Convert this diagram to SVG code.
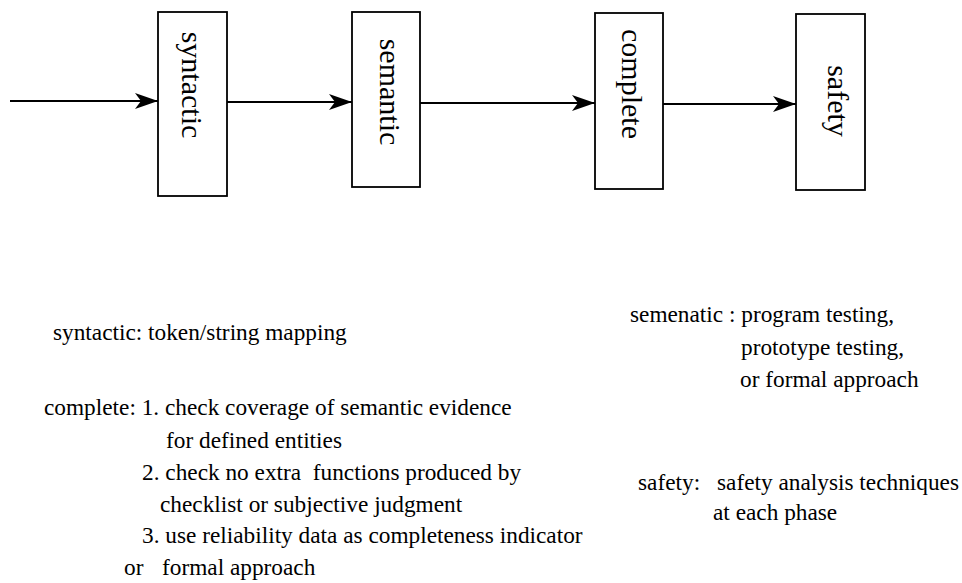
<svg xmlns="http://www.w3.org/2000/svg" width="962" height="583" viewBox="0 0 962 583">
<defs>
<marker id="ah" markerUnits="userSpaceOnUse" markerWidth="26" markerHeight="18" refX="23" refY="8" orient="auto">
<path d="M0,0 L23,8 L0,16 L6,8 Z" fill="#000"/>
</marker>
<style>
.box{fill:#fff;stroke:#000;stroke-width:1.8}
.vt{font-size:30px;fill:#000;text-anchor:middle}
.t{font-size:23.3px;fill:#000;white-space:pre}
.c{fill:none;stroke:#000;stroke-width:2}
</style>
</defs>
<rect width="962" height="583" fill="#fff"/>
<g id="connectors">
<line class="c" x1="10" y1="101" x2="158" y2="101" marker-end="url(#ah)"/>
<line class="c" x1="227" y1="102" x2="352" y2="102" marker-end="url(#ah)"/>
<line class="c" x1="420" y1="103" x2="595" y2="103" marker-end="url(#ah)"/>
<line class="c" x1="663" y1="104" x2="796" y2="104" marker-end="url(#ah)"/>
</g>
<g font-family="Liberation Serif, serif">
<g id="node-syntactic">
<rect class="box" x="158" y="12" width="69" height="184"/>
<text class="vt" transform="translate(182,85) rotate(90)">syntactic</text>
</g>
<g id="node-semantic">
<rect class="box" x="352" y="12" width="68" height="175"/>
<text class="vt" transform="translate(380,92) rotate(90)">semantic</text>
</g>
<g id="node-complete">
<rect class="box" x="595" y="13" width="68" height="176"/>
<text class="vt" transform="translate(622,84) rotate(90)">complete</text>
</g>
<g id="node-safety">
<rect class="box" x="796" y="14" width="69" height="176"/>
<text class="vt" transform="translate(828,101) rotate(90)">safety</text>
</g>
<g id="notes">
<text class="t" x="53" y="340">syntactic: token/string mapping</text>
<text class="t" x="44" y="415">complete: 1. check coverage of semantic evidence</text>
<text class="t" x="166" y="448">for defined entities</text>
<text class="t" x="142" y="480" xml:space="preserve">2. check no extra  functions produced by</text>
<text class="t" x="160" y="512">checklist or subjective judgment</text>
<text class="t" x="142" y="543">3. use reliability data as completeness indicator</text>
<text class="t" x="124" y="575">or</text>
<text class="t" x="162" y="575">formal approach</text>
<text class="t" x="630" y="322">semenatic : program testing,</text>
<text class="t" x="741" y="355">prototype testing,</text>
<text class="t" x="740" y="387">or formal approach</text>
<text class="t" x="638" y="490">safety:</text>
<text class="t" x="717" y="490">safety analysis techniques</text>
<text class="t" x="713" y="520">at each phase</text>
</g>
</g>
</svg>
